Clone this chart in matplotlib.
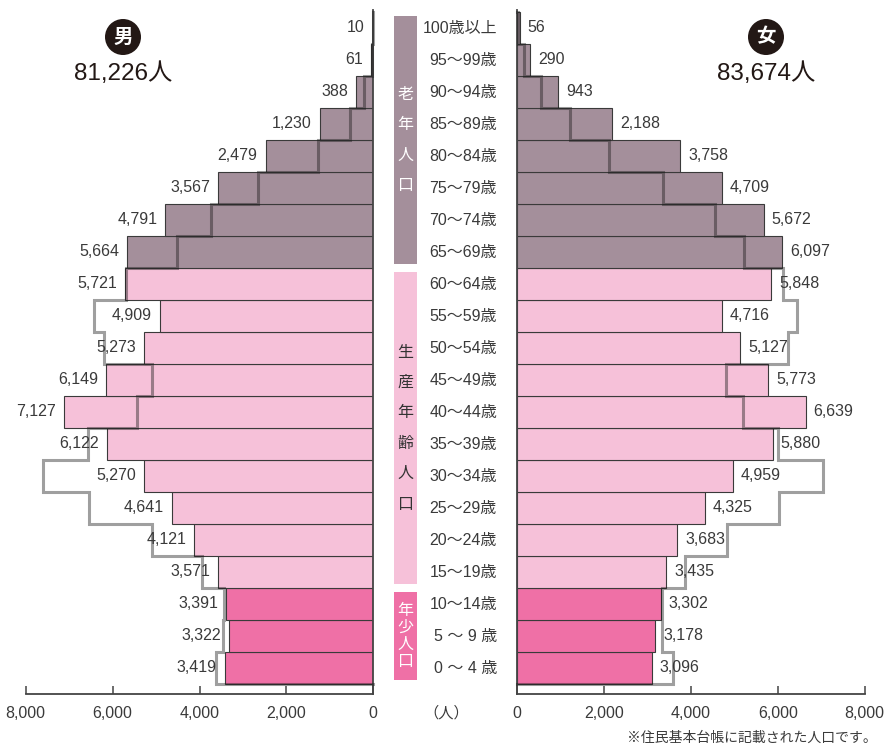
import matplotlib
matplotlib.use("Agg")
import matplotlib.pyplot as plt
from matplotlib import transforms
from matplotlib.patches import Rectangle, Circle
import numpy as np

plt.rcParams['font.family'] = ['Liberation Sans', 'Noto Sans CJK JP']

# age groups, bottom (youngest) to top
ages = ['0 ～ 4 歳', '5 ～ 9 歳', '10～14歳', '15～19歳', '20～24歳', '25～29歳',
        '30～34歳', '35～39歳', '40～44歳', '45～49歳', '50～54歳', '55～59歳',
        '60～64歳', '65～69歳', '70～74歳', '75～79歳', '80～84歳', '85～89歳',
        '90～94歳', '95～99歳', '100歳以上']

male = [3419, 3322, 3391, 3571, 4121, 4641, 5270, 6122, 7127, 6149, 5273,
        4909, 5721, 5664, 4791, 3567, 2479, 1230, 388, 61, 10]
female = [3096, 3178, 3302, 3435, 3683, 4325, 4959, 5880, 6639, 5773, 5127,
          4716, 5848, 6097, 5672, 4709, 3758, 2188, 943, 290, 56]

# comparison outline
male_prev = [3627, 3470, 3430, 3935, 5086, 6551, 7609, 6574, 5446, 5093, 6198,
             6428, 5692, 4511, 3735, 2647, 1266, 536, 207, 40, 5]
female_prev = [3584, 3340, 3330, 3852, 4829, 6019, 7034, 6005, 5198, 4813, 6227,
               6443, 6121, 5212, 4544, 3353, 2115, 1208, 547, 155, 15]

# population groups: (first row, last row, label, band colour, text colour, char step)
groups = [(0, 2, '年少人口', '#ef70a6', 'white', 0.53),
          (3, 12, '生産年齢人口', '#f6c1d9', '#333333', 0.95),
          (13, 20, '老年人口', '#a48f9b', 'white', 0.94)]

xticks = [0, 2000, 4000, 6000, 8000]

W, H = 890, 749
fig = plt.figure(figsize=(W / 100, H / 100), dpi=100)

n = len(ages)
y = np.arange(n)
row_col = np.empty(n, dtype=object)
for lo, hi, _, col, _, _ in groups:
    row_col[lo:hi + 1] = col

# axes in pixel units -> figure fractions
ax_bottom, ax_top = 694, 10
ax_m = fig.add_axes([25.7 / W, (H - ax_bottom) / H, 347.6 / W, (ax_bottom - ax_top) / H])
ax_f = fig.add_axes([517.3 / W, (H - ax_bottom) / H, 347.4 / W, (ax_bottom - ax_top) / H])
ylim = (-0.5 - 10 / 32, n - 0.5 + 2 / 32)

txt = '#3a3a3a'


def step_xy(v):
    v = np.asarray(v)[::-1]
    xs = np.r_[0, np.repeat(v, 2), 0]
    ys = np.r_[n - 0.5, (np.repeat(np.arange(n - 1, -1, -1), 2) + np.tile([0.5, -0.5], n)), -0.5]
    return xs, ys


for ax, vals, prev, side in [(ax_m, male, male_prev, -1), (ax_f, female, female_prev, 1)]:
    ax.barh(y, vals, height=1, color=list(row_col), edgecolor='#3a3a3a',
            linewidth=0.8, zorder=2)
    xs, ys = step_xy(prev)
    ax.plot(xs, ys, color='#1a1a1a', alpha=0.42, lw=2.2, zorder=3,
            solid_joinstyle='miter', clip_on=False)
    off = transforms.offset_copy(ax.transData, fig=fig, x=8 * side, units='dots')
    for yi, v in zip(y, vals):
        ax.text(v, yi, f'{v:,}', transform=off, ha='left' if side > 0 else 'right',
                va='center', fontsize=11.5, color=txt)
    ax.set_ylim(*ylim)
    ax.set_xlim((8000, 0) if side < 0 else (0, 8000))
    ax.set_xticks(xticks)
    ax.set_xticklabels([f'{t:,}' for t in xticks])
    ax.set_yticks([])
    ax.tick_params(axis='x', direction='in', length=6, width=1.1, pad=9,
                   labelsize=11.5, colors='#444444', labelcolor=txt)
    ax.patch.set_visible(False)
    for s in ['top', 'left', 'right', 'bottom']:
        ax.spines[s].set_color('#444444')
        ax.spines[s].set_linewidth(1.3)
    ax.spines['top'].set_visible(False)
    ax.spines['left' if side < 0 else 'right'].set_visible(False)

# overlay in pixel coordinates for the annotations
ov = fig.add_axes([0, 0, 1, 1])
ov.set_xlim(0, W)
ov.set_ylim(H, 0)
ov.axis('off')
rowtrans = transforms.blended_transform_factory(ov.transData, ax_m.transData)

for yi, a in zip(y, ages):
    ov.text(497, yi, a, transform=rowtrans, ha='right', va='center',
            fontsize=11.5, color=txt)

for lo, hi, label, col, tcol, step in groups:
    ov.add_patch(Rectangle((394, lo - 0.5 + 0.12), 23, hi - lo + 1 - 0.24,
                           transform=rowtrans, facecolor=col, edgecolor='none'))
    mid = (lo + hi) / 2
    k = len(label)
    for j, ch in enumerate(label):
        ov.text(405.5, mid + ((k - 1) / 2 - j) * step, ch, transform=rowtrans,
                ha='center', va='center', fontsize=11.5, color=tcol)

for cx, sym, total in [(123, '男', sum(male)), (766, '女', sum(female))]:
    ov.add_patch(Circle((cx, 37), 18, facecolor='#231815', edgecolor='none'))
    ov.text(cx, 37.5, sym, ha='center', va='center', fontsize=14,
            fontweight='bold', color='white')
    ov.text(cx, 74, f'{total:,}人', ha='center', va='center', fontsize=17.5,
            color='#231815')

ov.text(446, 713, '（人）', ha='center', va='center', fontsize=11, color=txt)
ov.text(877, 738, '※住民基本台帳に記載された人口です。', ha='right', va='center',
        fontsize=10, color=txt)

fig.savefig('out.png', dpi=100)
